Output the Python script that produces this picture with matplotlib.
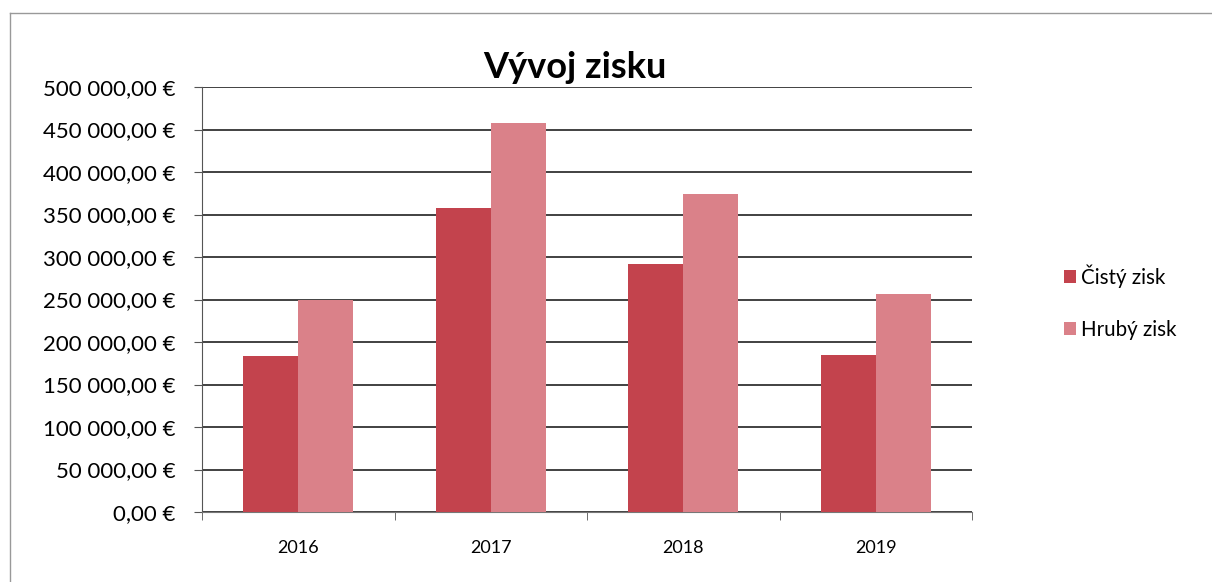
import matplotlib
matplotlib.use("Agg")
import matplotlib.pyplot as plt
from matplotlib.ticker import FuncFormatter, MultipleLocator
from matplotlib.lines import Line2D
import numpy as np

plt.rcParams['font.family'] = ['Lato', 'DejaVu Sans']

years = ["2016", "2017", "2018", "2019"]
cisty_zisk = [183000, 358000, 292000, 185000]
hruby_zisk = [249000, 458000, 374000, 256000]
series_names = ["Čistý zisk", "Hrubý zisk"]
title = "Vývoj zisku"

dark = "#C3434D"
light = "#DA8189"

fig = plt.figure(figsize=(12.12, 5.82), dpi=100)
ax = fig.add_axes([202/1212, 1-512/582, (972-202)/1212, (512-87)/582])

x = np.arange(len(years))
w = 0.285
b1 = ax.bar(x - w/2, cisty_zisk, width=w, color=dark, label=series_names[0], zorder=3)
b2 = ax.bar(x + w/2, hruby_zisk, width=w, color=light, label=series_names[1], zorder=3)

ax.set_xlim(-0.5, len(years) - 0.5)
ax.set_ylim(0, 500000)
ax.yaxis.set_major_locator(MultipleLocator(50000))

def fmt(v, pos):
    s = f"{v:,.2f}".replace(",", " ").replace(".", ",")
    return s + " €"
ax.yaxis.set_major_formatter(FuncFormatter(fmt))

ax.set_xticks(x)
ax.set_xticklabels(years, fontsize=13)
ax.set_xticks(np.arange(-0.5, len(years)), minor=True)
ax.tick_params(axis='x', which='major', length=0, pad=20)
ax.tick_params(axis='x', which='minor', length=6, color='#555555', direction='out')
ax.tick_params(axis='y', labelsize=16, length=6, color='#555555', pad=13)

ax.grid(axis='y', color='#333333', linewidth=1.3, zorder=0)
for s in ['top', 'right']:
    ax.spines[s].set_visible(False)
ax.spines['left'].set_color('#555555')
ax.spines['bottom'].set_color('#777777')

fig.text(575/1212, 1-68/582, title, ha='center', va='center', fontsize=26, fontweight='bold')

leg = fig.legend(handles=[b1, b2], labels=series_names, loc='center left',
                 bbox_to_anchor=(1045/1212, 1-302/582), frameon=False, fontsize=14.8,
                 handlelength=0.6, handleheight=0.6, handletextpad=0.25, labelspacing=1.55)

# chart border: top and left edges only
fig.add_artist(Line2D([10/1212, 1.0], [1-13/582, 1-13/582], transform=fig.transFigure,
                      color='#999999', linewidth=1))
fig.add_artist(Line2D([10/1212, 10/1212], [0.0, 1-13/582], transform=fig.transFigure,
                      color='#999999', linewidth=1))

fig.savefig("out.png", dpi=100)
